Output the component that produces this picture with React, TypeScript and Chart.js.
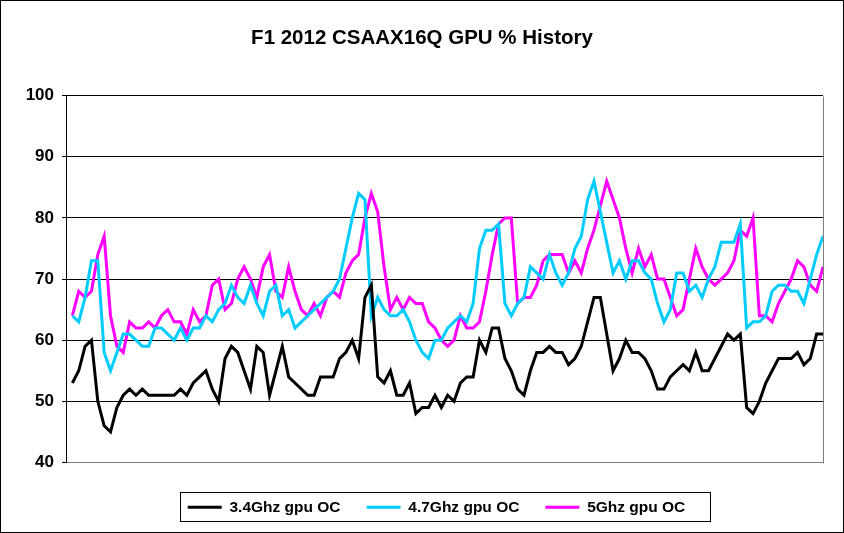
import React, { useEffect, useRef } from 'react';
import { Chart, registerables } from 'chart.js';

Chart.register(...registerables);

const TITLE = 'F1 2012 CSAAX16Q GPU % History';
const seriesNames = ['3.4Ghz gpu OC', '4.7Ghz gpu OC', '5Ghz gpu OC'];
const seriesColors = ['#000000', '#00CCFF', '#FF00FF'];

const gpu34 = [
  53, 55, 59, 60, 50, 46, 45, 49, 51, 52, 51, 52, 51, 51, 51, 51, 51, 52, 51, 53,
  54, 55, 52, 50, 57, 59, 58, 55, 52, 59, 58, 51, 55, 59, 54, 53, 52, 51, 51, 54,
  54, 54, 57, 58, 60, 57, 67, 69, 54, 53, 55, 51, 51, 53, 48, 49, 49, 51, 49, 51,
  50, 53, 54, 54, 60, 58, 62, 62, 57, 55, 52, 51, 55, 58, 58, 59, 58, 58, 56, 57,
  59, 63, 67, 67, 61, 55, 57, 60, 58, 58, 57, 55, 52, 52, 54, 55, 56, 55, 58, 55,
  55, 57, 59, 61, 60, 61, 49, 48, 50, 53, 55, 57, 57, 57, 58, 56, 57, 61, 61,
];

const gpu47 = [
  64, 63, 67, 73, 73, 58, 55, 58, 61, 61, 60, 59, 59, 62, 62, 61, 60, 62, 60, 62,
  62, 64, 63, 65, 66, 69, 67, 66, 69, 66, 64, 68, 69, 64, 65, 62, 63, 64, 65, 66,
  67, 68, 70, 75, 80, 84, 83, 64, 67, 65, 64, 64, 65, 63, 60, 58, 57, 60, 60, 62,
  63, 64, 63, 66, 75, 78, 78, 79, 66, 64, 66, 67, 72, 71, 70, 74, 71, 69, 71, 75,
  77, 83, 86, 81, 76, 71, 73, 70, 73, 73, 71, 70, 66, 63, 65, 71, 71, 68, 69, 67,
  70, 72, 76, 76, 76, 79, 62, 63, 63, 64, 68, 69, 69, 68, 68, 66, 70, 74, 77,
];

const gpu5 = [
  64, 68, 67, 68, 74, 77, 64, 59, 58, 63, 62, 62, 63, 62, 64, 65, 63, 63, 61, 65,
  63, 64, 69, 70, 65, 66, 70, 72, 70, 67, 72, 74, 68, 67, 72, 68, 65, 64, 66, 64,
  67, 68, 67, 71, 73, 74, 80, 84, 81, 72, 65, 67, 65, 67, 66, 66, 63, 62, 60, 59,
  60, 64, 62, 62, 63, 68, 74, 79, 80, 80, 66, 67, 67, 69, 73, 74, 74, 74, 71, 73,
  71, 75, 78, 82, 86, 83, 80, 75, 71, 75, 72, 74, 70, 70, 67, 64, 65, 70, 75, 72,
  70, 69, 70, 71, 73, 78, 77, 80, 64, 64, 63, 66, 68, 70, 73, 72, 69, 68, 72,
];

const Y_MIN = 40;
const Y_MAX = 100;
const Y_STEP = 10;

// one empty leading category, then one category per sample
const categories = Array.from({ length: gpu34.length + 1 }, (_, i) => String(i));

const FONT = "'Liberation Sans', Arial, sans-serif";
const LEGEND_SHIFT = -8;

const framePlugin = {
  id: 'frame',
  afterLayout(chart: any) {
    const lg = chart.legend;
    if (lg) {
      lg.left += LEGEND_SHIFT;
      lg.right += LEGEND_SHIFT;
    }
  },
  beforeDraw(chart: any) {
    const { ctx, width, height } = chart;
    ctx.save();
    ctx.fillStyle = '#ffffff';
    ctx.fillRect(0, 0, width, height);
    ctx.restore();
  },
  afterDraw(chart: any) {
    const { ctx, width, height, chartArea } = chart;
    ctx.save();
    // plot area right border (grey)
    ctx.strokeStyle = '#808080';
    ctx.lineWidth = 1;
    ctx.beginPath();
    const rx = Math.round(chartArea.right) + 0.5;
    ctx.moveTo(rx, Math.round(chartArea.top) + 0.5);
    ctx.lineTo(rx, Math.round(chartArea.bottom) + 0.5);
    ctx.stroke();
    // legend frame
    const lg = chart.legend;
    if (lg && lg.legendHitBoxes && lg.legendHitBoxes.length) {
      const hb = lg.legendHitBoxes;
      const first = hb[0];
      const last = hb[hb.length - 1];
      const l = first.left - 8;
      const r = last.left + last.width + 24;
      const cy = first.top + first.height / 2;
      ctx.strokeStyle = '#000000';
      ctx.strokeRect(Math.round(l) + 0.5, Math.round(cy - 15) + 0.5, Math.round(r - l), 29);
    }
    // outer chart border
    ctx.strokeStyle = '#000000';
    ctx.strokeRect(0.5, 0.5, width - 1, height - 1);
    ctx.restore();
  },
};

export default function App() {
  const ref = useRef<HTMLCanvasElement | null>(null);

  useEffect(() => {
    if (!ref.current) return;
    const mk = (i: number, values: number[]) => ({
      label: seriesNames[i],
      data: [null, ...values],
      borderColor: seriesColors[i],
      backgroundColor: seriesColors[i],
      borderWidth: 3,
      pointRadius: 0,
      pointHoverRadius: 0,
      tension: 0,
      fill: false,
      yAxisID: 'y',
    });
    const chart = new Chart(ref.current, {
      type: 'line',
      data: {
        labels: categories,
        datasets: [mk(0, gpu34), mk(1, gpu47), mk(2, gpu5)],
      },
      options: {
        animation: false,
        responsive: false,
        devicePixelRatio: 1,
        events: [],
        layout: { padding: { top: 0, left: 0, right: 0, bottom: 8 } },
        plugins: {
          tooltip: { enabled: false },
          title: {
            display: true,
            text: TITLE,
            color: '#000000',
            font: { family: FONT, size: 20.5, weight: 'bold', lineHeight: 1.2 },
            padding: { top: 26, bottom: 45 },
          },
          legend: {
            display: true,
            position: 'bottom',
            fullSize: false,
            labels: {
              usePointStyle: true,
              pointStyle: 'line',
              pointStyleWidth: 34,
              color: '#000000',
              font: { family: FONT, size: 15.5, weight: 'bold' },
              padding: 26,
            },
          },
        },
        scales: {
          x: {
            type: 'category',
            offset: false,
            ticks: { display: false },
            grid: { display: false },
            border: { display: true, color: '#808080', width: 1 },
            afterFit(scale: any) {
              scale.height = 11;
            },
          },
          y: {
            position: 'left',
            min: Y_MIN,
            max: Y_MAX,
            ticks: {
              stepSize: Y_STEP,
              color: '#000000',
              font: { family: FONT, size: 17, weight: 'bold' },
              padding: 8,
            },
            grid: {
              color: (c: any) => (c.tick && c.tick.value === Y_MIN ? '#808080' : '#000000'),
              tickColor: '#000000',
              tickLength: 4,
              lineWidth: 1,
              drawTicks: true,
            },
            border: { display: true, color: '#000000', width: 1 },
            afterFit(scale: any) {
              scale.width = 66;
            },
          },
          yr: {
            type: 'linear',
            position: 'right',
            display: true,
            ticks: { display: false },
            grid: { display: false },
            border: { display: false },
            afterFit(scale: any) {
              scale.width = 21;
            },
          },
        },
      } as any,
      plugins: [framePlugin],
    });
    return () => chart.destroy();
  }, []);

  return (
    <div style={{ position: 'absolute', left: 0, top: 0, width: 844, height: 533, background: '#fff' }}>
      <canvas ref={ref} width={844} height={533} style={{ display: 'block', width: 844, height: 533 }} />
    </div>
  );
}
